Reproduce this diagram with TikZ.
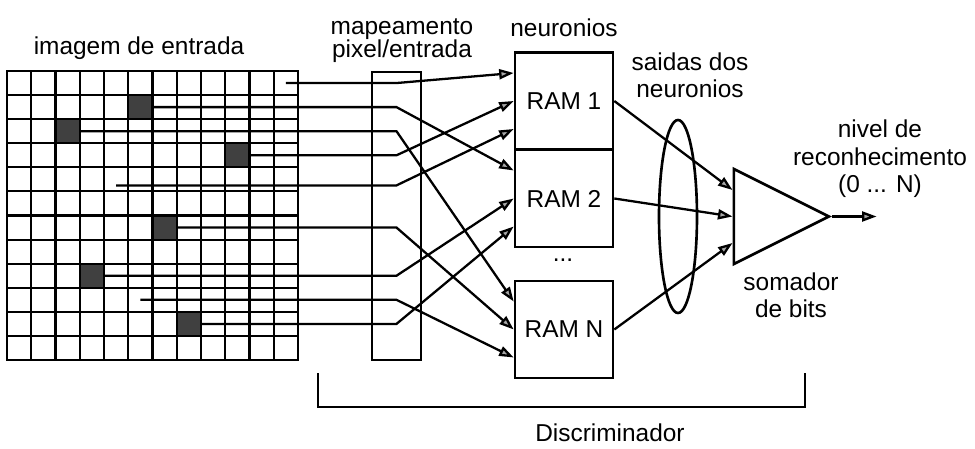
\documentclass[tikz,border=0pt]{standalone}
\usepackage{fontspec}
\setmainfont{Liberation Sans}
\usetikzlibrary{arrows.meta,shapes.geometric}
\tikzset{
  lbl/.style={font=\fontsize{13.9}{15.6}\selectfont, align=center, inner sep=0pt},
  rambox/.style={draw, line width=1.5pt, minimum width=1.96cm, minimum height=1.94cm,
    inner sep=0pt, font=\fontsize{13.9}{15.6}\selectfont},
  mapbox/.style={draw, line width=1.5pt, minimum width=0.98cm, minimum height=5.76cm, inner sep=0pt},
  summer/.style={draw, line width=1.5pt, isosceles triangle, isosceles triangle stretches,
    minimum width=1.9cm, minimum height=1.9cm, inner sep=0pt},
  gridline/.style={line width=1.2pt},
  wire/.style={line width=1.3pt, -{Triangle[length=2.9mm,width=2mm,fill=black!35]}}
}

\begin{document}
\begin{tikzpicture}
  \useasboundingbox[fill=white] (0,0) rectangle (19.5,-8.98);
  % input image: 12x12 pixels, dark ones filled
  \foreach \c/\r in {5/1, 2/2, 9/3, 6/6, 3/8, 7/10}
    \fill[black!75] ({0.14+\c*0.485},{-1.42-\r*0.4817}) rectangle ++(0.485,-0.4817);
  \foreach \i in {1,...,11} {
    \draw[gridline] ({0.14+\i*0.485},-1.42) -- ({0.14+\i*0.485},-7.20);
    \draw[gridline] (0.14,{-1.42-\i*0.4817}) -- (5.96,{-1.42-\i*0.4817});
  }
  \draw[line width=1.6pt] (0.14,-1.42) rectangle (5.96,-7.20);
  \node[lbl, anchor=base] (tImg) at (2.78,-1.10) {imagem de entrada};

  % sampled pixels
  \foreach \n/\c/\r in {1/11.5/0.5, 2/6/1.5, 3/3/2.5, 4/10/3.5, 5/4.5/4.75,
                         6/7/6.5, 7/4/8.5, 8/5.5/9.5, 9/8/10.5}
    \coordinate (px\n) at ({0.14+\c*0.485},{-1.42-\r*0.4817});

  \node[mapbox] (map) at (7.93,-4.32) {};
  \node[lbl] (tMap) at (8.04,-0.82) {mapeamento\\[-2.6pt]pixel/entrada};

  \node[rambox] (ram1) at (11.28,-2.02) {RAM 1};
  \node[rambox] (ram2) at (11.28,-3.97) {RAM 2};
  \node[rambox] (ramN) at (11.28,-6.59) {RAM N};
  \node[lbl, anchor=base] (dots) at (11.26,-5.24) {...};
  \node[lbl, anchor=base] (tNeu) at (11.28,-0.74) {neuronios};

  % pixel -> RAM input wiring
  \foreach \p/\r/\s in {1/ram1/0.56, 2/ram2/0.56, 3/ramN/0.56, 4/ram1/0, 5/ram1/-0.56,
                         6/ramN/0, 7/ram2/0, 8/ramN/-0.56, 9/ram2/-0.56}
    \draw[wire] (px\p) -- (px\p -| map) -- ([yshift=\s cm]\r.west);

  \node[draw, ellipse, line width=1.5pt, minimum width=0.76cm, minimum height=3.86cm,
    inner sep=0pt] (grp) at (13.56,-4.33) {};
  \node[lbl] (tOut) at (13.8,-1.50) {saidas dos\\neuronios};

  \node[summer, anchor=lower side] (sum) at (14.65,-4.33) {};
  \draw[wire] (ram1.east) -- ([yshift=0.53cm]sum.lower side);
  \draw[wire] (ram2.east) -- (sum.lower side);
  \draw[wire] (ramN.east) -- ([yshift=-0.53cm]sum.lower side);
  \node[lbl] (tSum) at (15.82,-5.90) {somador\\de bits};

  \coordinate (out) at (17.53,-4.33);
  \draw[wire] (sum.apex) -- (out);
  \node[lbl] (tRec) at (17.6,-3.18) {nivel de\\reconhecimento\\(0 ... N)};

  % discriminator bracket
  \draw[line width=1.4pt] (6.36,-7.46) -- (6.36,-8.14) -- (16.10,-8.14) -- (16.10,-7.46);
  \node[lbl, anchor=base] (tDisc) at (12.2,-8.83) {Discriminador};
\end{tikzpicture}
\end{document}
